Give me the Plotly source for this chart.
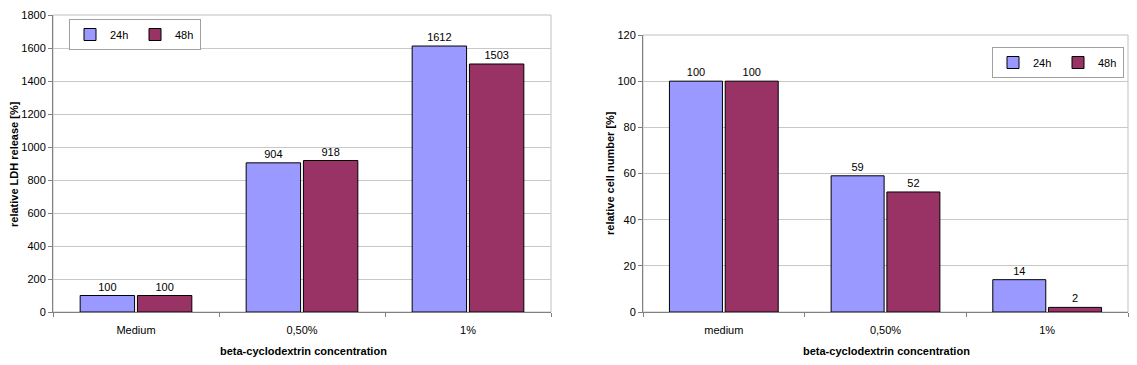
import plotly.graph_objects as go

categories_ldh = ["Medium", "0,50%", "1%"]
ldh_24h = [100, 904, 1612]
ldh_48h = [100, 918, 1503]

categories_cell = ["medium", "0,50%", "1%"]
cell_24h = [100, 59, 14]
cell_48h = [100, 52, 2]

series_names = ["24h", "48h"]
colors = ["#9999FF", "#993366"]

W, H = 1137, 365
FONT = "Liberation Sans, Arial, sans-serif"

def px_x(v):
    return v / W

def px_y(v):
    return 1 - v / H

fig = go.Figure()

for name, vals, col in zip(series_names, [ldh_24h, ldh_48h], colors):
    fig.add_trace(go.Bar(
        x=categories_ldh, y=vals, name=name, marker=dict(color=col, line=dict(color="#000000", width=1)),
        text=[str(v) for v in vals], textposition="outside", cliponaxis=False,
        textfont=dict(family=FONT, size=11, color="#000000"),
        xaxis="x", yaxis="y", legend="legend", hoverinfo="skip"))

for name, vals, col in zip(series_names, [cell_24h, cell_48h], colors):
    fig.add_trace(go.Bar(
        x=categories_cell, y=vals, name=name, marker=dict(color=col, line=dict(color="#000000", width=1)),
        text=[str(v) for v in vals], textposition="outside", cliponaxis=False,
        textfont=dict(family=FONT, size=11, color="#000000"),
        xaxis="x2", yaxis="y2", legend="legend2", hoverinfo="skip"))

axis_common = dict(
    showline=True, linecolor="#808080", linewidth=1, automargin=False,
    tickfont=dict(family=FONT, size=11, color="#000000"),
    ticks="outside", ticklen=4, tickcolor="#808080", zeroline=False,
)

legend_common = dict(
    xanchor="center", yanchor="top", orientation="h",
    bordercolor="#A0A0A0", borderwidth=1, bgcolor="white",
    font=dict(family=FONT, size=11), itemwidth=30, tracegroupgap=0,
    entrywidth=20, entrywidthmode="pixels",
)

title_font = dict(family=FONT, size=11, color="#000000")

fig.update_layout(
    width=W, height=H,
    margin=dict(l=0, r=0, t=0, b=0, autoexpand=False),
    paper_bgcolor="white", plot_bgcolor="white",
    barmode="group", bargap=0.31, bargroupgap=0.05,
    font=dict(family=FONT, size=11, color="#000000"),
    uniformtext=dict(minsize=11, mode="show"),
    xaxis=dict(domain=[px_x(53), px_x(551)], anchor="y", tickson="boundaries",
               ticklabelstandoff=8, showgrid=False, **axis_common),
    yaxis=dict(domain=[px_y(312), px_y(15)], anchor="x", range=[0, 1800], dtick=200,
               showgrid=True, gridcolor="#C8C8C8", gridwidth=1, **axis_common),
    xaxis2=dict(domain=[px_x(643), px_x(1128)], anchor="y2", tickson="boundaries",
                ticklabelstandoff=8, showgrid=False, **axis_common),
    yaxis2=dict(domain=[px_y(312), px_y(35)], anchor="x2", range=[0, 120], dtick=20,
                showgrid=True, gridcolor="#C8C8C8", gridwidth=1, **axis_common),
    legend=dict(x=px_x(135), y=px_y(19), **legend_common),
    legend2=dict(x=px_x(1058), y=px_y(47), **legend_common),
    shapes=[
        dict(type="rect", xref="x domain", yref="y domain", x0=0, x1=1, y0=0, y1=1,
             line=dict(color="#C0C0C0", width=1), layer="below"),
        dict(type="rect", xref="x2 domain", yref="y2 domain", x0=0, x1=1, y0=0, y1=1,
             line=dict(color="#C0C0C0", width=1), layer="below"),
    ],
    annotations=[
        dict(text="<b>relative LDH release [%]</b>", x=px_x(14), y=px_y(164), xref="paper", yref="paper",
             xanchor="center", yanchor="middle", textangle=-90, showarrow=False, font=title_font),
        dict(text="<b>beta-cyclodextrin concentration</b>", x=px_x(303), y=px_y(351), xref="paper", yref="paper",
             xanchor="center", yanchor="middle", showarrow=False, font=title_font),
        dict(text="<b>relative cell number [%]</b>", x=px_x(610), y=px_y(173), xref="paper", yref="paper",
             xanchor="center", yanchor="middle", textangle=-90, showarrow=False, font=title_font),
        dict(text="<b>beta-cyclodextrin concentration</b>", x=px_x(886), y=px_y(351), xref="paper", yref="paper",
             xanchor="center", yanchor="middle", showarrow=False, font=title_font),
    ],
)

fig.write_html("out.html", config={"displayModeBar": False},
               post_script="document.body.style.margin='0px';document.body.style.overflow='hidden';")
